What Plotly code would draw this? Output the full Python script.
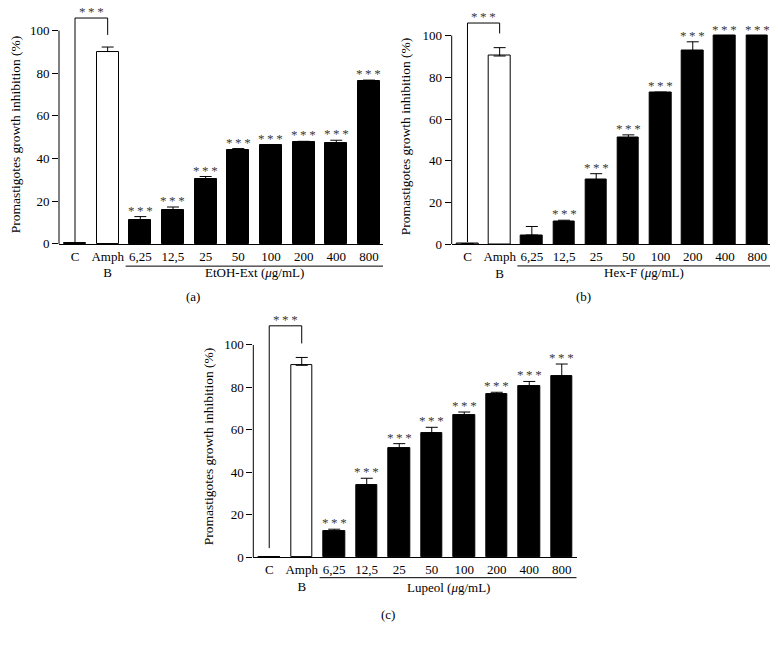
import plotly.graph_objects as go

# ---------------- data ----------------
categories = ["C", "Amph<br>B", "6,25", "12,5", "25", "50", "100", "200", "400", "800"]

etoh_values = [0.3, 90.2, 11.3, 15.9, 30.5, 44.0, 46.3, 47.8, 47.1, 76.6]
etoh_errors = [0, 2.1, 1.5, 1.4, 1.1, 0.7, 0.2, 0.3, 1.5, 0.2]
etoh_signif = ["", "", "***", "***", "***", "***", "***", "***", "***", "***"]

hexf_values = [0.3, 90.2, 4.4, 11.0, 30.9, 51.1, 72.6, 92.7, 100.0, 100.0]
hexf_errors = [0, 4.0, 4.1, 0.5, 2.9, 1.3, 0.3, 4.3, 0, 0]
hexf_signif = ["", "", "", "***", "***", "***", "***", "***", "***", "***"]

lupeol_values = [0.3, 90.4, 12.1, 34.0, 51.2, 58.6, 67.1, 76.9, 80.7, 85.3]
lupeol_errors = [0, 3.7, 1.1, 3.2, 2.3, 2.6, 1.3, 0.8, 2.1, 5.7]
lupeol_signif = ["", "", "***", "***", "***", "***", "***", "***", "***", "***"]

group_labels = ["EtOH-Ext (<i>μ</i>g/mL)", "Hex-F (<i>μ</i>g/mL)", "Lupeol (<i>μ</i>g/mL)"]
panel_labels = ["(a)", "(b)", "(c)"]
y_title = "Promastigotes growth inhibition (%)"
y_ticks = [0, 20, 40, 60, 80, 100]
bracket_signif = "***"

# ---------------- layout geometry (page pixels) ----------------
W, H = 778, 639
FONT = "Liberation Serif"
STAR_COLOR = "#3a3a3a"


def px_x(px):
    return px / W


def px_y(py):
    return 1 - py / H


def star_text(s):
    return "\u2009".join(list(s))


panels = [
    dict(vals=etoh_values, errs=etoh_errors, sig=etoh_signif, left=59, right=383,
         zero=247, ppu=2.16, ymax=112, title_x=15, title_y=136, label_y=300, label_x=193,
         line_y=269.5, glabel_y=276, br_left=0.5, br_top=105.9, br_right=98.0,
         xr=[-0.49, 9.43]),
    dict(vals=hexf_values, errs=hexf_errors, sig=hexf_signif, left=451.7, right=770,
         zero=247.3, ppu=2.113, ymax=112, title_x=405, title_y=138, label_y=300, label_x=583,
         line_y=269.3, glabel_y=276, br_left=1.0, br_top=106.0, br_right=101.0,
         xr=[-0.49, 9.40]),
    dict(vals=lupeol_values, errs=lupeol_errors, sig=lupeol_signif, left=253.3, right=576.7,
         zero=564.3, ppu=2.15, ymax=115, title_x=208, title_y=452, label_y=622, label_x=388,
         line_y=585, glabel_y=595, br_left=4.3, br_top=109.0, br_right=100.7,
         xr=[-0.49, 9.46]),
]

fig = go.Figure()
shapes = []
annotations = []
xs = list(range(len(categories)))

for i, p in enumerate(panels):
    sfx = "" if i == 0 else str(i + 1)
    xa, ya = "x" + sfx, "y" + sfx
    top_px = p["zero"] - p["ymax"] * p["ppu"]
    xdom = [px_x(p["left"]), min(1.0, px_x(p["right"]))]
    ydom = [px_y(p["zero"]), min(1.0, px_y(top_px))]

    colors = ["white", "white"] + ["black"] * (len(categories) - 2)
    fig.add_trace(go.Bar(
        x=xs, y=p["vals"], width=0.67, xaxis=xa, yaxis=ya,
        marker=dict(color=colors, line=dict(color="black", width=1)),
        error_y=dict(type="data", array=p["errs"], arrayminus=[0] * len(xs),
                     symmetric=False, color="black", thickness=1, width=6),
        hoverinfo="skip",
    ))

    layout_x = dict(domain=xdom, range=p["xr"], anchor=ya, showline=True, linecolor="black",
                    linewidth=1, ticks="", tickmode="array", tickvals=xs, ticktext=categories,
                    showgrid=False, zeroline=False, fixedrange=True,
                    tickfont=dict(family=FONT, size=13, color="black"))
    layout_y = dict(domain=ydom, range=[0, p["ymax"]], anchor=xa, showline=False,
                    ticks="outside", ticklen=6, tickcolor="black", tickwidth=1,
                    tickmode="array", tickvals=y_ticks, showgrid=False, zeroline=False,
                    fixedrange=True, tickfont=dict(family=FONT, size=13, color="black"))
    fig.update_layout(**{"xaxis" + sfx: layout_x, "yaxis" + sfx: layout_y})

    # y axis line only up to 100
    shapes.append(dict(type="line", xref=xa + " domain", yref=ya, x0=0, x1=0, y0=0, y1=100,
                       line=dict(color="black", width=1)))
    # bracket C vs Amph B
    shapes.append(dict(type="path", xref=xa, yref=ya,
                       path=f"M 0,{p['br_left']} L 0,{p['br_top']} L 1,{p['br_top']} L 1,{p['br_right']}",
                       line=dict(color="black", width=1)))
    annotations.append(dict(x=0.5, y=p["br_top"], xref=xa, yref=ya, text=star_text(bracket_signif),
                            showarrow=False, yanchor="bottom", yshift=-3,
                            font=dict(family=FONT, size=13, color=STAR_COLOR)))
    # significance stars
    for xi, v, e, s in zip(xs, p["vals"], p["errs"], p["sig"]):
        if s:
            annotations.append(dict(x=xi, y=v + e, xref=xa, yref=ya, text=star_text(s),
                                    showarrow=False, yanchor="bottom", yshift=-3,
                                    font=dict(family=FONT, size=13, color=STAR_COLOR)))
    # group underline and label
    shapes.append(dict(type="line", xref=xa, yref="paper", x0=1.55, x1=p["xr"][1],
                       y0=px_y(p["line_y"]), y1=px_y(p["line_y"]),
                       line=dict(color="black", width=1)))
    annotations.append(dict(x=(1.55 + p["xr"][1]) / 2, y=px_y(p["glabel_y"]), xref=xa,
                            yref="paper", text=group_labels[i], showarrow=False,
                            yanchor="middle", font=dict(family=FONT, size=13, color="black")))
    # y title
    annotations.append(dict(x=px_x(p["title_x"]), y=px_y(p["title_y"]), xref="paper",
                            yref="paper", text=y_title, textangle=-90, showarrow=False,
                            xanchor="center", yanchor="middle",
                            font=dict(family=FONT, size=13.5, color="black")))
    # panel label
    annotations.append(dict(x=px_x(p["label_x"]), y=px_y(p["label_y"]), xref="paper",
                            yref="paper", text=panel_labels[i], showarrow=False,
                            xanchor="center", yanchor="middle",
                            font=dict(family=FONT, size=13, color="black")))

fig.update_layout(width=W, height=H, margin=dict(l=0, r=0, t=0, b=0),
                  paper_bgcolor="white", plot_bgcolor="white", showlegend=False,
                  bargap=0, shapes=shapes, annotations=annotations,
                  font=dict(family=FONT, size=13, color="black"))

fig.write_html("out.html", config={"displayModeBar": False},
               post_script="document.body.style.margin='0px';document.body.style.overflow='hidden';")
